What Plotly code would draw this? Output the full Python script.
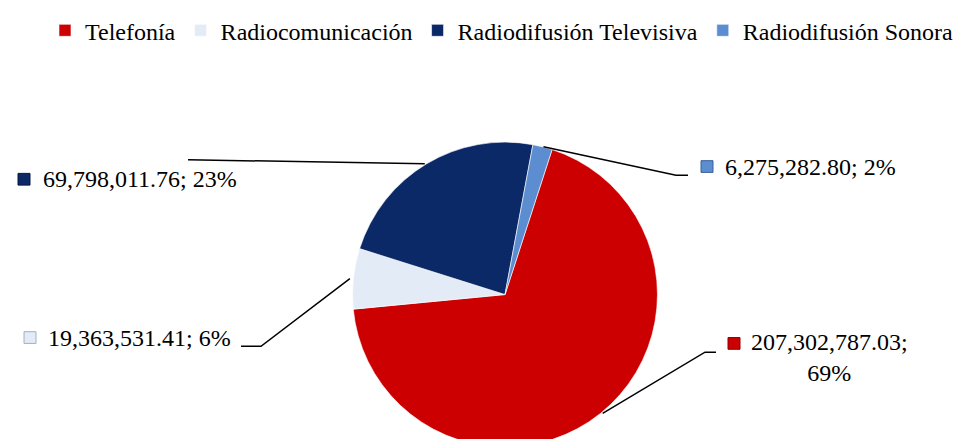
import math
import plotly.graph_objects as go

# ---- data ----
categories = ["Telefonía", "Radiocomunicación", "Radiodifusión Televisiva", "Radiodifusión Sonora"]
values = [207302787.03, 19363531.41, 69798011.76, 6275282.80]
pct_labels = [69, 6, 23, 2]

# ---- styles ----
colors = ["#CC0000", "#E3EBF6", "#0B2867", "#5B8DD0"]
edge_colors = ["#8B0000", "#9FB0C8", "#061840", "#3A6199"]
FONT = "Liberation Serif, Times New Roman, serif"

# ---- layout geometry (pixels) ----
W, H = 961, 439
CX, CY, R = 497, 283, 156
ROTATION = 18

# marker square left x, text anchor x, label center y
marker_x = [720, 16, 10, 693]
text_x = [821, 38, 33, 715]
label_y = [347.5, 327, 165, 152]
marker_y = [333, 327, 165, 152]
leader_pts = [[(697, 342), (708, 342)],
              [(253, 336), (233, 336)],
              [(180, 145)],
              [(668, 161), (680, 161)]]


def px(x):
    return x / W


def py(y):
    return 1 - y / H


fig = go.Figure(go.Pie(
    labels=categories, values=values, sort=False, direction="clockwise",
    rotation=ROTATION,
    marker=dict(colors=colors, line=dict(color="rgba(255,255,255,0.6)", width=1)),
    textinfo="none", hoverinfo="label+value+percent",
    domain=dict(x=[px(CX - R), px(CX + R)], y=[py(CY + R), py(CY - R)]),
))

total = sum(values)
cum = 0.0
shapes = []
annotations = []
for i, (cat, v) in enumerate(zip(categories, values)):
    mid = ROTATION + (cum + v / 2) / total * 360
    cum += v
    a = math.radians(mid)
    ex, ey = CX + R * math.sin(a), CY - R * math.cos(a)
    pts = [(ex, ey)] + leader_pts[i]
    path = "M " + " L ".join(f"{px(x):.5f},{py(y):.5f}" for x, y in pts)
    shapes.append(dict(type="path", xref="paper", yref="paper", path=path,
                       line=dict(color="black", width=1.5)))
    shapes.append(dict(type="rect", xref="paper", yref="paper",
                       x0=px(marker_x[i]), x1=px(marker_x[i] + 12),
                       y0=py(marker_y[i] - 6), y1=py(marker_y[i] + 6),
                       fillcolor=colors[i], line=dict(color=edge_colors[i], width=1)))
    if i == 0:
        txt = f"{v:,.2f};<br>{pct_labels[i]}%"
        xa = "center"
    else:
        txt = f"{v:,.2f}; {pct_labels[i]}%"
        xa = "left"
    annotations.append(dict(
        x=px(text_x[i]), y=py(label_y[i]), xref="paper", yref="paper",
        xanchor=xa, yanchor="middle", align="center", showarrow=False,
        text=txt, font=dict(family=FONT, size=24, color="black"),
    ))

fig.update_layout(
    width=W, height=H,
    margin=dict(l=0, r=0, t=0, b=0),
    paper_bgcolor="white", plot_bgcolor="white",
    font=dict(family=FONT, size=24, color="black"),
    showlegend=True,
    legend=dict(orientation="h", x=px(37), xanchor="left", y=1.0 + 10 / H, yanchor="top",
                bgcolor="rgba(0,0,0,0)",
                font=dict(family=FONT, size=24, color="black"),
                traceorder="normal", itemclick=False, itemdoubleclick=False),
    shapes=shapes,
    annotations=annotations,
)

fig.write_html("out.html")
